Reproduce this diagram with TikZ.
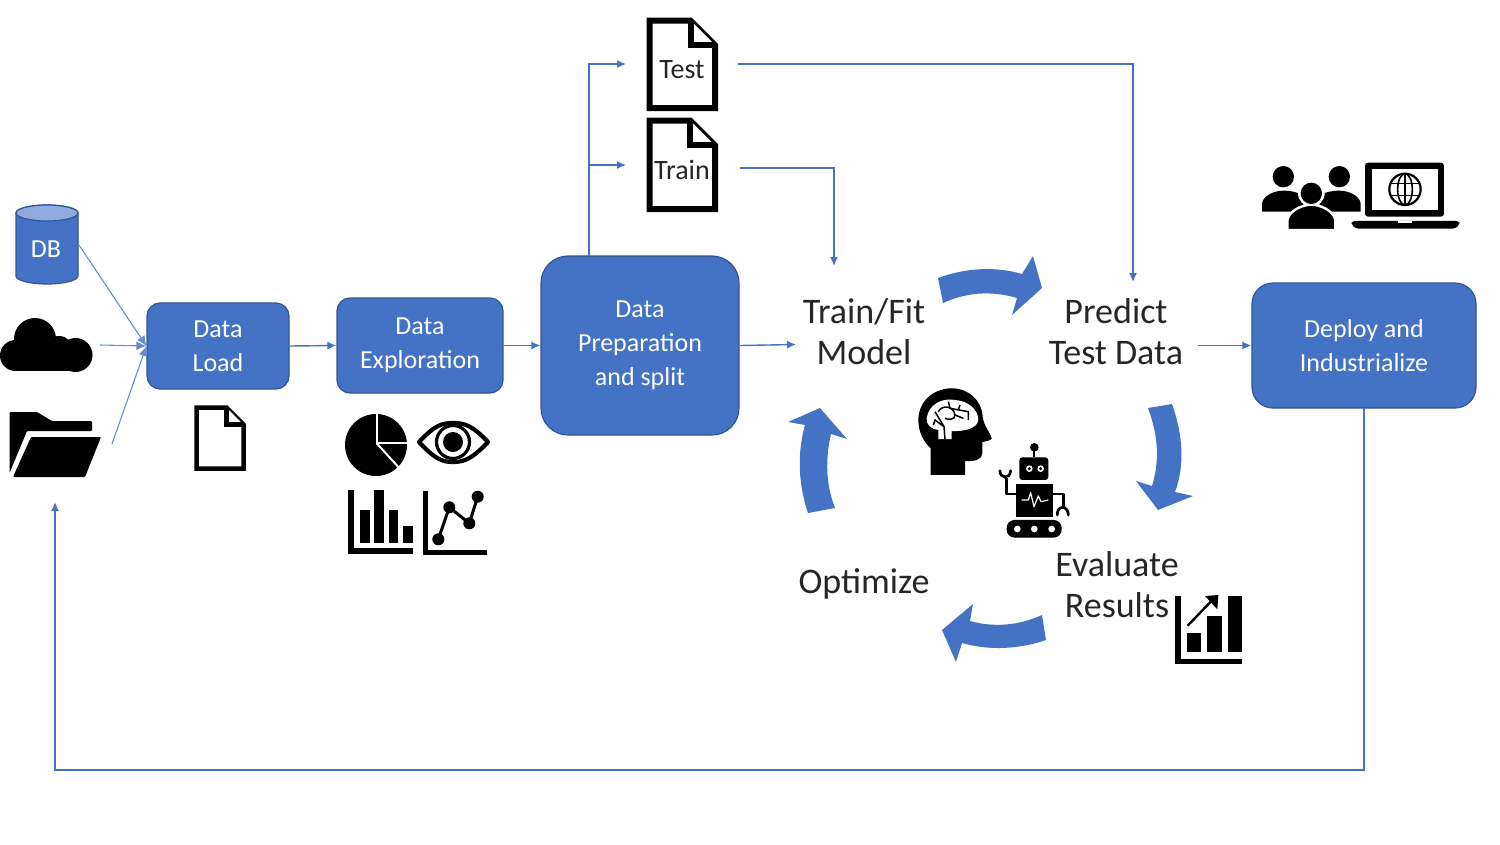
\documentclass[tikz,border=0pt]{standalone}
\usepackage{fontspec}
\setmainfont{Carlito}
\usetikzlibrary{arrows.meta}
\definecolor{bl}{HTML}{4472C4}
\definecolor{bd}{HTML}{2F5597}
\definecolor{bt}{HTML}{8FAADC}
\tikzset{
  box/.style={draw=bd,fill=bl,line width=1.2pt,text=white,align=center,inner sep=0pt,font=\fontsize{26}{34}\selectfont},
  big/.style={align=center,inner sep=0pt,text=black!85,font=\fontsize{36}{41}\selectfont},
  doclabel/.style={inner sep=0pt,text=black!85,font=\fontsize{28}{32}\selectfont},
  conn/.style={draw=bl,line width=1.4pt,-{Latex[length=9pt,width=8pt]}},
  connthin/.style={draw=bl!80,line width=1.1pt,-{Latex[length=10pt,width=9pt]}},
  bigarrow/.style={fill=bl,draw=none},
  docicon/.style={draw=black,fill=white,line join=miter},
  ink/.style={fill=black,draw=none}
}
\newcommand{\docshape}[5]{% l t r b w
  \path[docicon,line width=#5pt] (#1,#2) -- ({#3-(#4-#2)*0.28},#2) -- (#3,{#2+(#4-#2)*0.28}) -- (#3,#4) -- (#1,#4) -- cycle;
  \path[docicon,line width=#5pt] ({#3-(#4-#2)*0.28},#2) -- ({#3-(#4-#2)*0.28},{#2+(#4-#2)*0.28}) -- (#3,{#2+(#4-#2)*0.28});
}
\begin{document}
\begin{tikzpicture}[x=1pt,y=-1pt]
\useasboundingbox (0,0) rectangle (1500,844);

% Boxes
\node[box,rounded corners=13pt,minimum width=142pt,minimum height=86pt] (load) at (218,346) {Data\\Load};
\node[box,rounded corners=13pt,minimum width=166pt,minimum height=95pt] (explore) at (420,345.5) {Data\\Exploration};
\node[box,rounded corners=27pt,minimum width=198pt,minimum height=179pt] (prep) at (640,345.5) {Data\\Preparation\\and split};
\node[box,rounded corners=21pt,minimum width=224pt,minimum height=125pt] (deploy) at (1364,345.5) {Deploy and\\Industrialize};

% DB cylinder
\path[draw=bd,fill=bl,line width=1.2pt] (16,213) -- (16,276) arc[start angle=180,end angle=360,x radius=31,y radius=-8] -- (78,213) arc[start angle=0,end angle=180,x radius=31,y radius=-8] -- cycle;
\path[draw=bd,fill=bt,line width=1.2pt] (47,213) ellipse[x radius=31,y radius=8];
\node[inner sep=0pt,text=white,font=\fontsize{26}{30}\selectfont] (db) at (46,249) {DB};

% Cloud
\fill[black] (22,371) arc[start angle=270,end angle=90,radius=-0pt] -- cycle;
\path[ink,rounded corners=0pt] (18,371) -- (78,371) -- (78,345) -- (18,345) -- cycle;
\fill (15.5,355.5) circle[radius=15.5];
\fill (35,339) circle[radius=21];
\fill (59,350) circle[radius=14];
\fill (75.5,355) circle[radius=17];
\fill (50,358) circle[radius=13];

% Folder
\path[ink,rounded corners=1pt] (9.5,412) -- (37,412) -- (52,421) -- (92,421) -- (92,431) -- (27,431) -- (9.5,473) -- cycle;
\path[ink,rounded corners=1pt] (31,437) -- (101,437) -- (85,477) -- (13,477) -- cycle;

% Data Load doc
\docshape{196.5}{407.5}{243.5}{468.5}{4.5}

% Pie
\fill (376,445) circle[radius=31];
\draw[white,line width=2pt] (376.7,410) -- (376.7,443.3) -- (412,443.3);
\draw[white,line width=2pt] (376.7,443.3) -- (401,470);

% Eye
\path[draw=black,fill=white,line width=4.2pt,line join=round] (419,442) .. controls (435,425) and (442,423) .. (453,423) .. controls (464,423) and (472,425) .. (488,442) .. controls (472,459) and (464,462) .. (453,462) .. controls (442,462) and (435,459) .. (419,442) -- cycle;
\draw[line width=3.2pt] (453,442) circle[radius=16.5];
\fill (453,442) circle[radius=10];

% Bar chart
\fill (348,490) rectangle (354,554);
\fill (348,548) rectangle (413,554);
\fill (360,510) rectangle (370,542.7);
\fill (374.3,490) rectangle (384.3,542.7);
\fill (388.7,510) rectangle (398.3,542.7);
\fill (402.7,526) rectangle (412.7,542.7);

% Line chart
\fill (423,490.7) rectangle (428.3,555);
\fill (423,550) rectangle (486.7,555);
\draw[line width=3pt] (438.3,539.3) -- (449.3,507.3) -- (469.3,523.3) -- (477.7,496.7);
\foreach \px/\py in {438.3/539.3,449.3/507.3,469.3/523.3,477.7/496.7} \fill (\px,\py) circle[radius=6];

% Test / Train docs
\docshape{649.5}{20.5}{715}{108}{6}
\docshape{649.5}{120.5}{715}{209}{6}
\node[doclabel] (testdoc) at (682,70) {Test};
\node[doclabel] (traindoc) at (682,170) {Train};

% Head and robot
\begin{scope}[shift={(900,370)},x=0.3333pt,y=-0.3333pt]
  \path[ink] (92,315) -- (92,235) .. controls (70,215) and (55,185) .. (55,150) .. controls (55,95) and (100,55) .. (155,55) .. controls (205,55) and (245,90) .. (248,140) .. controls (250,165) and (272,190) .. (275,205) .. controls (272,212) and (258,214) .. (247,216) -- (247,250) .. controls (247,268) and (225,275) .. (195,273) -- (195,315) -- cycle;
  \path[fill=white] (80,145) .. controls (85,105) and (125,82) .. (165,90) .. controls (205,92) and (235,120) .. (235,150) .. controls (232,175) and (195,185) .. (155,183) -- (155,207) -- (115,207) -- (115,180) .. controls (95,178) and (78,165) .. (80,145) -- cycle;
  \draw[line width=1.5pt] (135,207) -- (132,170) -- (105,125);
  \draw[line width=1.5pt] (132,170) -- (105,150) -- (100,165);
  \draw[line width=1.5pt] (115,125) .. controls (125,105) and (160,105) .. (165,135) .. controls (165,150) and (145,150) .. (135,145);
  \draw[line width=1.5pt] (145,95) -- (150,115) -- (205,125) -- (205,150);
  \draw[line width=1.5pt] (180,105) -- (175,120);
  \draw[line width=1.5pt] (165,135) -- (190,145);
  % robot
  \path[ink,rounded corners=3pt] (358,262) rectangle (445,330);
  \draw[line width=1.7pt] (403,262) -- (403,235);
  \fill (403,232) circle[radius=13];
  \foreach \ex in {388,422} {\fill[white] (\ex,296) circle[radius=10]; \fill (\ex,296) circle[radius=5];}
  \fill (348,342) rectangle (460,440);
  \draw[white,line width=1.2pt,line join=round] (365,390) -- (385,390) -- (392,368) -- (402,410) -- (415,378) -- (423,395) -- (445,390);
  \draw[line width=2.7pt,line join=round] (348,372) -- (320,372) -- (320,325);
  \draw[line width=2.7pt,line cap=round] (300,302) .. controls (298,325) and (330,330) .. (332,302);
  \draw[line width=2.7pt,line join=round] (460,372) -- (490,372) -- (490,410);
  \draw[line width=2.7pt,line cap=round] (472,435) .. controls (470,405) and (505,405) .. (505,435);
  \path[ink,rounded corners=8pt] (320,450) rectangle (485,503);
  \foreach \dx in {352,403,455} \fill[white] (\dx,477) circle[radius=10];
\end{scope}

% Growth chart
\begin{scope}[shift={(1130,580)},x=0.3333pt,y=-0.3333pt]
  \fill (135,47) rectangle (153,252);
  \fill (135,236) rectangle (337,252);
  \fill (170,158) rectangle (213,217);
  \fill (232,107) rectangle (275,217);
  \fill (293,47) rectangle (337,217);
  \draw[line width=2.4pt] (173,137) -- (250,57);
  \path[ink] (265,45) -- (225,48) -- (262,88) -- cycle;
\end{scope}

% People and laptop
\begin{scope}[shift={(1250,150)},x=0.3333pt,y=-0.3333pt]
  \fill (100,80) circle[radius=32];
  \fill (268,80) circle[radius=32];
  \path[ink] (36,185) -- (36,160) .. controls (40,135) and (75,122) .. (100,122) .. controls (125,122) and (150,128) .. (160,140) -- (160,185) -- cycle;
  \path[ink] (332,185) -- (332,160) .. controls (328,135) and (293,122) .. (268,122) .. controls (243,122) and (218,128) .. (208,140) -- (208,185) -- cycle;
  \fill[white] (184,130) circle[radius=40];
  \path[draw=white,fill=black,line width=2.4pt] (112,240) -- (112,210) .. controls (118,180) and (160,164) .. (184,164) .. controls (208,164) and (250,180) .. (256,210) -- (256,240) -- cycle;
  \fill (184,130) circle[radius=32];
  \fill[white] (105,236) rectangle (120,245);
  % laptop
  \path[ink,rounded corners=3pt] (345,38) rectangle (582,200);
  \fill[white] (365,58) rectangle (565,180);
  \draw[line width=2.2pt] (465,118) circle[radius=47];
  \draw[line width=1.6pt] (465,118) ellipse[x radius=22,y radius=47];
  \draw[line width=1.6pt] (465,71) -- (465,165);
  \draw[line width=1.6pt] (420,100) -- (510,100);
  \draw[line width=1.6pt] (420,136) -- (510,136);
  \path[ink,rounded corners=3pt] (305,213) -- (628,213) -- (628,225) -- (615,236) -- (318,236) -- (305,225) -- cycle;
  \fill[white] (445,213) rectangle (485,219);
\end{scope}

% Labels
\node[big] (fit) at (864,332) {Train/Fit\\Model};
\node[big] (predict) at (1116,332) {Predict\\Test Data};
\node[big] (evaluate) at (1117,585) {Evaluate\\Results};
\node[big] (optimize) at (864,584) {Optimize};

% Block arrows
\path[bigarrow] (938,278) .. controls (965,268) and (995,266) .. (1022,274) -- (1033,256) -- (1042,288) -- (1012,315) -- (1017,298) .. controls (990,290) and (965,293) .. (943,303) -- cycle;
\path[bigarrow] (1172,404) .. controls (1183,435) and (1185,465) .. (1175,492) -- (1193,496) -- (1158,510) -- (1136,481) -- (1152,486) .. controls (1160,460) and (1158,435) .. (1148,408) -- cycle;
\path[bigarrow] (1046,640) .. controls (1020,649) and (990,651) .. (962,643) -- (956,662) -- (942,630) -- (973,604) -- (970,621) .. controls (995,628) and (1020,625) .. (1042,615) -- cycle;
\path[bigarrow] (808,513) .. controls (797,480) and (798,450) .. (805,425) -- (788,422) -- (820,408) -- (847,439) -- (831,434) .. controls (825,460) and (826,485) .. (835,508) -- cycle;

% Connector end coordinates
\coordinate (dbout) at (79,245);
\coordinate (cloudout) at (100,345);
\coordinate (folderout) at (112,444);
\coordinate (fitin) at (796,344.5);
\coordinate (prepup) at (589,256);
\coordinate (testin) at (626,64);
\coordinate (trainin) at (626,165);
\coordinate (testout) at (738,64);
\coordinate (trainout) at (740,168);
\coordinate (fittop) at (834,266);
\coordinate (predtop) at (1133,282);
\coordinate (predout) at (1198,345.5);
\coordinate (folderin) at (55,502);
\coordinate (deployout) at (1364,408);

% Connectors
\draw[connthin] (dbout) -- (load.west);
\draw[connthin] (cloudout) -- (load.west);
\draw[connthin] (folderout) -- (load.west);
\draw[conn] (load.east) -- (explore.west);
\draw[conn] (explore.east) -- (prep.west);
\draw[conn] (prep.east) -- (fitin);
\draw[conn] (prepup) |- (testin);
\draw[conn] (prepup) |- (trainin);
\draw[conn] (testout) -| (predtop);
\draw[conn] (trainout) -| (fittop);
\draw[conn] (predout) -- (deploy.west);
\draw[conn,line width=1.8pt] (deployout) |- (55,770) -- (folderin);
\end{tikzpicture}
\end{document}
